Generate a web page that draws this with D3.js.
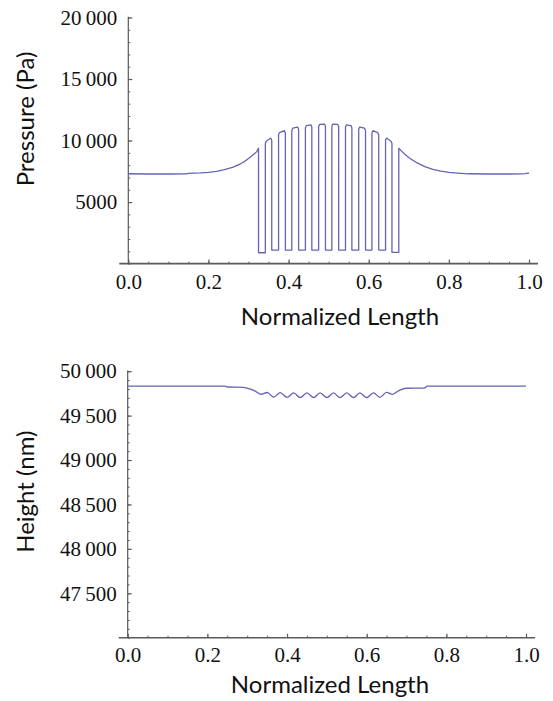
<!DOCTYPE html>
<html><head><meta charset="utf-8">
<script src="https://cdn.jsdelivr.net/npm/d3@7"></script>
<style>body{margin:0;background:#fff}</style>
</head><body>
<svg id="c" width="553" height="701"></svg>
<script>
// ---------- data ----------
const xTicks = [0, 0.2, 0.4, 0.6, 0.8, 1.0];
const xTickLabels = ["0.0", "0.2", "0.4", "0.6", "0.8", "1.0"];
const pressureTicks = [5000, 10000, 15000, 20000];
const pressureTickLabels = ["5000", "10\u2009000", "15\u2009000", "20\u2009000"];
const heightTicks = [47500, 48000, 48500, 49000, 49500, 50000];
const heightTickLabels = ["47\u2009500", "48\u2009000", "48\u2009500", "49\u2009000", "49\u2009500", "50\u2009000"];

// pressure (Pa) — smooth flanks outside the grooved zone
const pressureLeftX = [0, 0.05, 0.1, 0.145, 0.15, 0.18, 0.2, 0.22, 0.24, 0.26, 0.28, 0.29, 0.3, 0.31, 0.32, 0.325];
const pressureLeftP = [7300, 7280, 7280, 7290, 7330, 7370, 7420, 7500, 7640, 7820, 8110, 8290, 8540, 8800, 9080, 9370];
const pressureRightX = [0.675, 0.68, 0.69, 0.7, 0.71, 0.72, 0.74, 0.76, 0.78, 0.8, 0.83, 0.85, 0.9, 0.95, 0.98, 0.99, 1.0];
const pressureRightP = [9370, 9200, 8880, 8620, 8400, 8200, 7880, 7650, 7510, 7420, 7340, 7300, 7280, 7280, 7290, 7320, 7360];
// grooved zone: alternating groove / ridge boundaries
const slotEdges = [0.325, 0.342, 0.358, 0.375, 0.392, 0.408, 0.425, 0.442, 0.458, 0.475, 0.492,
                   0.508, 0.525, 0.542, 0.558, 0.575, 0.592, 0.608, 0.625, 0.642, 0.658, 0.675];
const grooveP = [880, 1100, 1100, 1100, 1100, 1100, 1100, 1100, 1100, 1100, 920];
const ridgeStartP = [9950, 10650, 11000, 11220, 11320, 11340, 11280, 11100, 10800, 10200];
const ridgeEndP = [10200, 10800, 11100, 11280, 11340, 11320, 11220, 11000, 10650, 9950];

// height (nm)
const heightX = [0, 0.245, 0.25, 0.29, 0.3, 0.31, 0.32, 0.335, 0.35, 0.367, 0.383, 0.4, 0.417, 0.433, 0.45, 0.467,
                 0.483, 0.5, 0.517, 0.533, 0.55, 0.567, 0.583, 0.6, 0.617, 0.633, 0.65, 0.665, 0.675, 0.685,
                 0.7, 0.745, 0.752, 1.0];
const heightV = [49833, 49833, 49822, 49818, 49808, 49795, 49775, 49740, 49760, 49708, 49758, 49705, 49755, 49703,
                 49755, 49703, 49755, 49702, 49755, 49702, 49755, 49703, 49755, 49703, 49755, 49706, 49762, 49740,
                 49765, 49790, 49808, 49810, 49833, 49833];

// ---------- build pressure polyline ----------
const pressurePts = pressureLeftX.map((x, i) => [x, pressureLeftP[i]]);
for (let i = 0; i < grooveP.length; i++) {
  pressurePts.push([slotEdges[2 * i], grooveP[i]], [slotEdges[2 * i + 1], grooveP[i]]);
  if (i < ridgeStartP.length) {
    const a = slotEdges[2 * i + 1], b = slotEdges[2 * i + 2];
    pressurePts.push([a, ridgeStartP[i] - 180], [a + 0.0025, ridgeStartP[i]],
                     [b - 0.0025, ridgeEndP[i]], [b, ridgeEndP[i] - 180]);
  }
}
pressureRightX.forEach((x, i) => pressurePts.push([x, pressureRightP[i]]));
const heightPts = heightX.map((x, i) => [x, heightV[i]]);

// ---------- drawing ----------
const svg = d3.select("#c");
const lineColor = "#6464b4";
const axisColor = "#5a5a5a";
const serif = "'Liberation Serif','DejaVu Serif',serif";
const sans = "Lato,'Open Sans',sans-serif";

function panel(cfg) {
  const x = d3.scaleLinear().domain([0, 1]).range([cfg.x0, cfg.x1]);
  const y = d3.scaleLinear().domain(cfg.yDomain).range([cfg.yBottom, cfg.yTop]);
  const g = svg.append("g");

  // minor ticks
  g.append("g").attr("transform", `translate(0,${cfg.yBottom})`)
    .call(d3.axisBottom(x).tickValues(d3.range(0, 1.0001, 0.05)).tickSize(-2).tickFormat(""))
    .call(s => { s.select(".domain").remove(); s.selectAll("line").attr("stroke", axisColor).attr("stroke-width", 1); });
  g.append("g").attr("transform", `translate(${cfg.x0},0)`)
    .call(d3.axisLeft(y).tickValues(d3.range(cfg.yDomain[0], cfg.yDomain[1] + 1, cfg.yMinor)).tickSize(-2).tickFormat(""))
    .call(s => { s.select(".domain").remove(); s.selectAll("line").attr("stroke", axisColor).attr("stroke-width", 1); });

  // major ticks + labels
  g.append("g").attr("transform", `translate(0,${cfg.yBottom})`)
    .call(d3.axisBottom(x).tickValues(xTicks).tickSize(-4).tickPadding(10).tickFormat((d, i) => xTickLabels[i]))
    .call(s => {
      s.select(".domain").remove();
      s.selectAll("line").attr("stroke", axisColor).attr("stroke-width", 1.2);
      s.selectAll("text").attr("font-family", serif).attr("font-size", 21).attr("fill", "#111")
        .attr("y", cfg.xLabelOffset).attr("dy", null);
    });
  g.append("g").attr("transform", `translate(${cfg.x0},0)`)
    .call(d3.axisLeft(y).tickValues(cfg.yTicks).tickSize(-4).tickPadding(11).tickFormat((d, i) => cfg.yTickLabels[i]))
    .call(s => {
      s.select(".domain").remove();
      s.selectAll("line").attr("stroke", axisColor).attr("stroke-width", 1.2);
      s.selectAll("text").attr("font-family", serif).attr("font-size", 21).attr("fill", "#111").attr("x", -11);
    });

  // axis lines
  g.append("line").attr("x1", cfg.x0 - 9).attr("x2", cfg.x1 + 9).attr("y1", cfg.yBottom).attr("y2", cfg.yBottom)
    .attr("stroke", axisColor).attr("stroke-width", 1.6);
  g.append("line").attr("x1", cfg.x0).attr("x2", cfg.x0).attr("y1", cfg.yBottom).attr("y2", cfg.yTop - 0.8)
    .attr("stroke", axisColor).attr("stroke-width", 1.2);

  // series
  g.append("path").datum(cfg.pts)
    .attr("d", d3.line().x(d => x(d[0])).y(d => y(d[1])).curve(cfg.curve))
    .attr("fill", "none").attr("stroke", lineColor).attr("stroke-width", 1.3).attr("stroke-linejoin", "round");

  // titles
  svg.append("text").text(cfg.xTitle).attr("x", cfg.xTitleX).attr("y", cfg.xTitleY)
    .attr("text-anchor", "middle").attr("font-family", sans).attr("font-size", 24).attr("fill", "#111");
  svg.append("text").text(cfg.yTitle)
    .attr("transform", `translate(34,${cfg.yTitleY}) rotate(-90)`)
    .attr("text-anchor", "middle").attr("font-family", sans).attr("font-size", 24).attr("fill", "#111");
}

panel({
  x0: 128.3, x1: 529, yBottom: 263.6, yTop: 17.5, yDomain: [0, 20000], yMinor: 1000,
  yTicks: pressureTicks, yTickLabels: pressureTickLabels, xLabelOffset: 25.3,
  pts: pressurePts, curve: d3.curveLinear,
  xTitle: "Normalized Length", xTitleX: 340, xTitleY: 325,
  yTitle: "Pressure (Pa)", yTitleY: 119
});
panel({
  x0: 127.7, x1: 526, yBottom: 637.7, yTop: 371.2, yDomain: [47000, 50000], yMinor: 100,
  yTicks: heightTicks, yTickLabels: heightTickLabels, xLabelOffset: 24,
  pts: heightPts, curve: d3.curveMonotoneX,
  xTitle: "Normalized Length", xTitleX: 330, xTitleY: 692.5,
  yTitle: "Height (nm)", yTitleY: 491.7
});
</script>
</body></html>
